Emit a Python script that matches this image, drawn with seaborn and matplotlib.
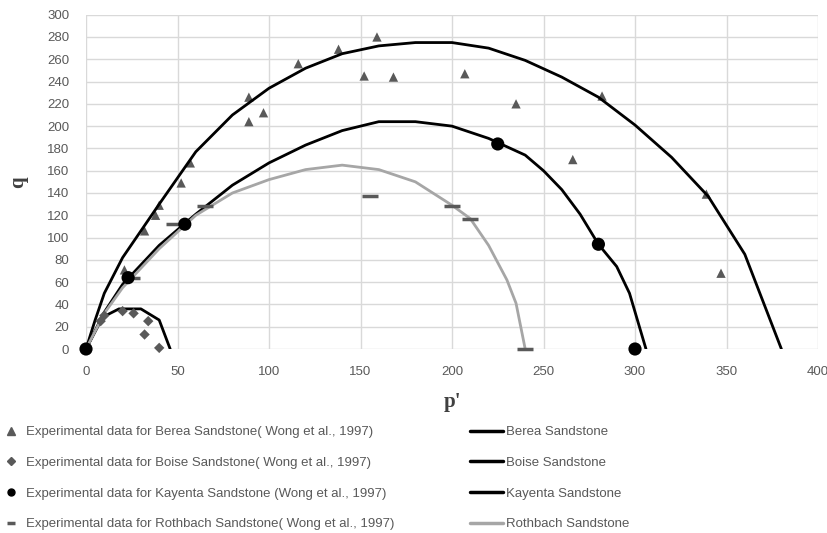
import matplotlib
matplotlib.use("Agg")
import matplotlib.pyplot as plt
from matplotlib.lines import Line2D
import seaborn as sns

# experimental points (p', q)
berea_p = [159, 138, 116, 152, 168, 89, 89, 97, 57, 52, 40, 38, 32, 21, 207, 235, 282, 266, 339, 347]
berea_q = [280, 269, 256, 245, 244, 226, 204, 212, 167, 149, 129, 120, 106, 71, 247, 220, 227, 170, 139, 68]

boise_p = [0, 8, 10, 20, 26, 34, 32, 40]
boise_q = [0, 25, 30, 34, 32, 25, 13, 1]

kayenta_p = [0, 23, 54, 225, 280, 300]
kayenta_q = [0, 64, 112, 184, 94, 0]

rothbach_p = [25, 48, 65, 155, 200, 210, 240]
rothbach_q = [64, 112, 128, 137, 128, 117, 0]

# yield surfaces
berea_line_p = [0, 5, 10, 20, 40, 60, 80, 100, 120, 140, 160, 180, 200, 220, 240, 260, 280, 300, 320, 340, 360, 380]
berea_line_q = [0, 26, 50, 82, 130, 177, 210, 234, 252, 265, 272, 275, 275, 270, 259, 244, 226, 201, 172, 137, 85, 0]

boise_line_p = [0, 8, 12, 18, 30, 40, 46]
boise_line_q = [0, 25, 31, 36, 36, 26, 0]

kayenta_line_p = [0, 10, 20, 40, 60, 80, 100, 120, 140, 160, 180, 200, 220, 240, 250, 260, 270, 280, 290, 297, 306]
kayenta_line_q = [0, 33, 58, 93, 121, 147, 167, 183, 196, 204, 204, 200, 189, 174, 160, 143, 121, 94, 74, 50, 0]

rothbach_line_p = [0, 10, 20, 40, 60, 80, 100, 120, 140, 160, 180, 200, 210, 220, 230, 235, 240]
rothbach_line_q = [0, 32, 55, 90, 120, 140, 152, 161, 165, 161, 150, 129, 117, 93, 62, 41, 0]

sns.set_style("white")
plt.rcParams['font.family'] = ['Liberation Sans', 'DejaVu Sans']

gray = '#595959'
fig = plt.figure(figsize=(8.27, 5.33), dpi=100)
ax = fig.add_axes([86/827, 1-349/533, 732/827, 334.3/533])

ax.set_xlim(0, 400)
ax.set_ylim(0, 300)
ax.set_xticks(range(0, 401, 50))
ax.set_yticks(range(0, 301, 20))
ax.grid(True, color='#d9d9d9', linewidth=1)
ax.set_axisbelow(True)
for s in ax.spines.values():
    s.set_visible(False)
ax.tick_params(length=0, labelsize=9.5, labelcolor=gray)
ax.tick_params(axis='y', pad=12)
ax.tick_params(axis='x', pad=12)

sns.scatterplot(x=berea_p, y=berea_q, marker='^', s=45, color=gray, edgecolor='none',
                ax=ax, clip_on=False, zorder=1.5)

lw = 2.0
sns.lineplot(x=berea_line_p, y=berea_line_q, sort=False, estimator=None, color='black', linewidth=lw, ax=ax, zorder=2)
sns.lineplot(x=boise_line_p, y=boise_line_q, sort=False, estimator=None, color='black', linewidth=lw, ax=ax, zorder=2)
sns.lineplot(x=kayenta_line_p, y=kayenta_line_q, sort=False, estimator=None, color='black', linewidth=lw, ax=ax, zorder=2)
sns.lineplot(x=rothbach_line_p, y=rothbach_line_q, sort=False, estimator=None, color='#a6a6a6', linewidth=lw, ax=ax, zorder=2)

sns.scatterplot(x=boise_p, y=boise_q, marker='D', s=28, color=gray, edgecolor='none',
                ax=ax, clip_on=False, zorder=3)
sns.scatterplot(x=rothbach_p, y=rothbach_q, marker='_', s=120, color=gray, linewidth=2.5,
                ax=ax, clip_on=False, zorder=3)
sns.scatterplot(x=kayenta_p, y=kayenta_q, marker='o', s=90, color='black', edgecolor='none',
                ax=ax, clip_on=False, zorder=4)

ax.set_xlabel("p'", family='Liberation Serif', fontweight='bold', fontsize=15, color='#404040', labelpad=10)
ax.set_ylabel("q", family='Liberation Serif', fontweight='bold', fontsize=15, color='#404040', labelpad=14)

left_handles = [
    Line2D([], [], marker='^', ls='none', color=gray, markersize=6),
    Line2D([], [], marker='D', ls='none', color=gray, markersize=4.5),
    Line2D([], [], marker='o', ls='none', color='black', markersize=5),
    Line2D([], [], marker='_', ls='none', color=gray, markersize=6, markeredgewidth=2.5),
]
left_labels = [
    "Experimental data for Berea Sandstone( Wong et al., 1997)",
    "Experimental data for Boise Sandstone( Wong et al., 1997)",
    "Experimental data for Kayenta Sandstone (Wong et al., 1997)",
    "Experimental data for Rothbach Sandstone( Wong et al., 1997)",
]
right_handles = [
    Line2D([], [], color='black', linewidth=2.5),
    Line2D([], [], color='black', linewidth=2.5),
    Line2D([], [], color='black', linewidth=2.5),
    Line2D([], [], color='#a6a6a6', linewidth=2.5),
]
right_labels = ["Berea Sandstone", "Boise Sandstone", "Kayenta Sandstone", "Rothbach Sandstone"]

top = 1 - 426/533
leg1 = fig.legend(left_handles, left_labels, loc='upper left', bbox_to_anchor=(4/827, top),
                  frameon=False, fontsize=9.5, labelcolor=gray, handlelength=1.1,
                  handletextpad=0.6, labelspacing=1.4, borderpad=0, borderaxespad=0)
leg2 = fig.legend(right_handles, right_labels, loc='upper left', bbox_to_anchor=(470/827, top),
                  frameon=False, fontsize=9.5, labelcolor=gray, handlelength=2.5,
                  handletextpad=0.2, labelspacing=1.4, borderpad=0, borderaxespad=0)

fig.savefig("out.png", dpi=100)
